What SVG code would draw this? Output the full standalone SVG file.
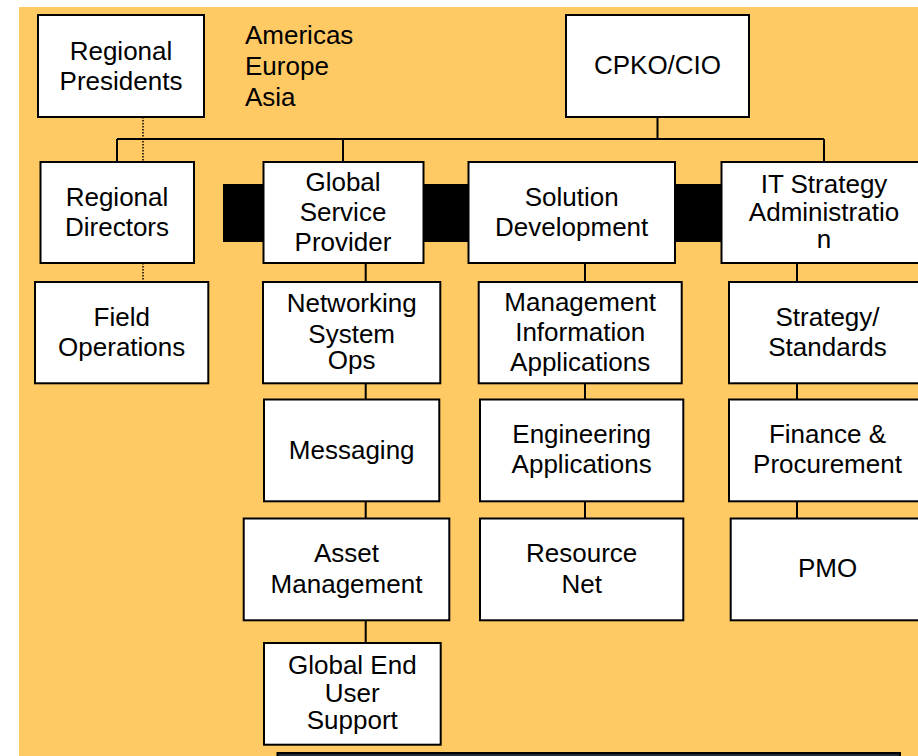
<svg xmlns="http://www.w3.org/2000/svg" width="918" height="756" viewBox="0 0 918 756">
  <style>
    .box { fill: #ffffff; stroke: #000000; stroke-width: 2; }
    .lbl { font-family: "Liberation Sans", Arial, sans-serif; font-size: 26px; fill: #000000; text-anchor: middle; }
    .note { font-family: "Liberation Sans", Arial, sans-serif; font-size: 26px; fill: #000000; }
    .line { stroke: #000000; stroke-width: 2; fill: none; }
    .dot { stroke: #000000; stroke-width: 1.5; stroke-dasharray: 1.5 1.5; fill: none; }
  </style>

  <!-- page -->
  <rect x="0" y="0" width="918" height="756" fill="#ffffff"/>
  <rect x="19" y="7" width="899" height="749" fill="#FFCA64"/>

  <!-- black band behind the division row -->
  <rect x="223" y="184" width="498" height="58" fill="#000000"/>

  <!-- connectors -->
  <g id="connectors">
    <path class="line" d="M657.5 117 V139 M117 139 H824 M117 139 V162 M343 139 V162 M824 139 V162"/>
    <path class="line" d="M365.7 263 V282 M365.7 383 V400 M365.7 501 V519 M365.7 620 V643"/>
    <path class="line" d="M585 263 V282 M585 383 V400 M585 501 V519"/>
    <path class="line" d="M797 263 V282 M797 383 V400 M797 501 V519"/>
    <path class="dot" d="M143 117 V162 M143 263 V282"/>
  </g>

  <g id="regional-presidents">
    <rect class="box" x="38" y="15" width="166" height="102"/>
    <text class="lbl" x="121" y="59.5">Regional</text>
    <text class="lbl" x="121" y="89.5">Presidents</text>
  </g>

  <g id="regions-note">
    <text class="note" x="245" y="44">Americas</text>
    <text class="note" x="245" y="75">Europe</text>
    <text class="note" x="245" y="106">Asia</text>
  </g>

  <g id="cpko-cio">
    <rect class="box" x="566" y="15" width="183" height="102"/>
    <text class="lbl" x="657.5" y="73.5">CPKO/CIO</text>
  </g>

  <g id="regional-directors">
    <rect class="box" x="40.5" y="162" width="153.5" height="101"/>
    <text class="lbl" x="117" y="205.5">Regional</text>
    <text class="lbl" x="117" y="235.5">Directors</text>
  </g>

  <g id="global-service-provider">
    <rect class="box" x="263.5" y="162" width="160" height="101"/>
    <text class="lbl" x="343" y="191">Global</text>
    <text class="lbl" x="343" y="220.5">Service</text>
    <text class="lbl" x="343" y="250.5">Provider</text>
  </g>

  <g id="solution-development">
    <rect class="box" x="468.5" y="162" width="206.5" height="101"/>
    <text class="lbl" x="571.7" y="205.5">Solution</text>
    <text class="lbl" x="571.7" y="235.5">Development</text>
  </g>

  <g id="it-strategy-administration">
    <rect class="box" x="721.5" y="162" width="206" height="101"/>
    <text class="lbl" x="824" y="193.3">IT Strategy</text>
    <text class="lbl" x="824" y="220.7">Administratio</text>
    <text class="lbl" x="824" y="247.7">n</text>
  </g>

  <g id="field-operations">
    <rect class="box" x="35" y="282" width="173.3" height="101.3"/>
    <text class="lbl" x="121.7" y="325.7">Field</text>
    <text class="lbl" x="121.7" y="356">Operations</text>
  </g>

  <g id="networking-system-ops">
    <rect class="box" x="263" y="282" width="177.3" height="101.3"/>
    <text class="lbl" x="351.7" y="312.3">Networking</text>
    <text class="lbl" x="351.7" y="342.7">System</text>
    <text class="lbl" x="351.7" y="369.3">Ops</text>
  </g>

  <g id="messaging">
    <rect class="box" x="264" y="399.5" width="175.3" height="101.8"/>
    <text class="lbl" x="351.7" y="459">Messaging</text>
  </g>

  <g id="asset-management">
    <rect class="box" x="243.7" y="518.5" width="205.6" height="101.8"/>
    <text class="lbl" x="346.5" y="561.7">Asset</text>
    <text class="lbl" x="346.5" y="592.7">Management</text>
  </g>

  <g id="global-end-user-support">
    <rect class="box" x="264" y="643" width="176.7" height="101.7"/>
    <text class="lbl" x="352.3" y="674.3">Global End</text>
    <text class="lbl" x="352.3" y="702.3">User</text>
    <text class="lbl" x="352.3" y="729">Support</text>
  </g>

  <g id="management-information-applications">
    <rect class="box" x="478.7" y="282" width="203" height="101.3"/>
    <text class="lbl" x="580.2" y="310.7">Management</text>
    <text class="lbl" x="580.2" y="341">Information</text>
    <text class="lbl" x="580.2" y="370.7">Applications</text>
  </g>

  <g id="engineering-applications">
    <rect class="box" x="480" y="399.5" width="203.3" height="101.8"/>
    <text class="lbl" x="581.7" y="443.3">Engineering</text>
    <text class="lbl" x="581.7" y="473.3">Applications</text>
  </g>

  <g id="resource-net">
    <rect class="box" x="480" y="518.5" width="203.3" height="101.8"/>
    <text class="lbl" x="581.7" y="561.7">Resource</text>
    <text class="lbl" x="581.7" y="592.7">Net</text>
  </g>

  <g id="strategy-standards">
    <rect class="box" x="729" y="282" width="197" height="101.3"/>
    <text class="lbl" x="827.5" y="325.7">Strategy/</text>
    <text class="lbl" x="827.5" y="356">Standards</text>
  </g>

  <g id="finance-procurement">
    <rect class="box" x="729" y="399.5" width="197" height="101.8"/>
    <text class="lbl" x="827.5" y="443.3">Finance &amp;</text>
    <text class="lbl" x="827.5" y="473.3">Procurement</text>
  </g>

  <g id="pmo">
    <rect class="box" x="730.7" y="518.5" width="197" height="101.8"/>
    <text class="lbl" x="827.5" y="577.3">PMO</text>
  </g>

  <!-- panel edge along the bottom -->
  <rect x="277.5" y="753" width="622.5" height="10" fill="#1f2d3a" stroke="#000000" stroke-width="2"/>
</svg>
